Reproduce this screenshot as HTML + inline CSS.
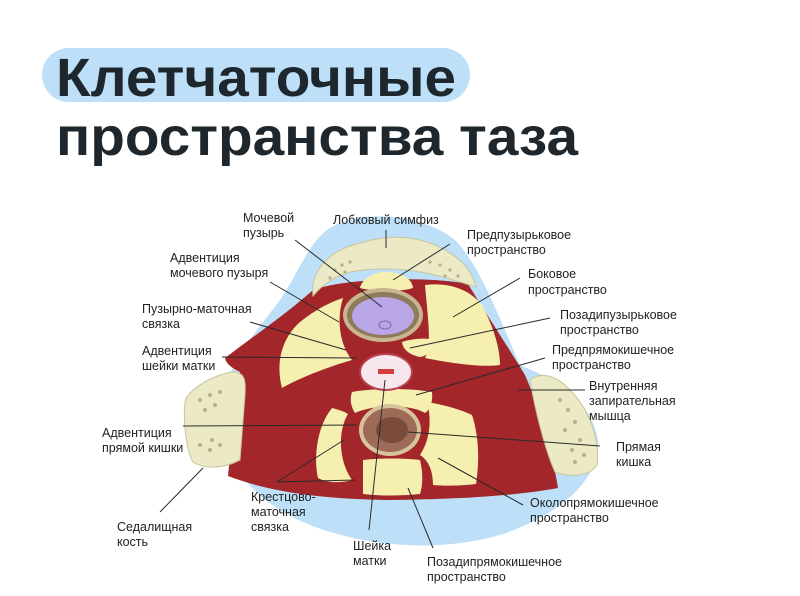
<!DOCTYPE html>
<html><head><meta charset="utf-8"><style>
html,body{margin:0;padding:0;background:#fff;}
svg{display:block}
.t{font-family:"Liberation Sans",sans-serif;font-size:12.5px;fill:#222;}
.h{font-family:"Liberation Sans",sans-serif;font-weight:bold;font-size:54px;fill:#1e272d;}
.l{stroke:#2a2a2a;stroke-width:1;fill:none}
</style></head><body>
<svg width="800" height="596" viewBox="0 0 800 596" xmlns="http://www.w3.org/2000/svg">
<rect x="42" y="48" width="428" height="54" rx="27" fill="#bde0f8"/>
<text class="h" x="56" y="96" textLength="400" lengthAdjust="spacingAndGlyphs">Клетчаточные</text>
<text class="h" x="56" y="155" textLength="522" lengthAdjust="spacingAndGlyphs">пространства таза</text>

<path d="M330,228 C360,210 420,212 455,240 C480,265 500,320 520,365 C550,378 590,395 598,440 C600,480 560,515 500,535 C440,552 370,548 310,525 C260,505 225,470 222,420 C220,370 250,340 280,300 C300,270 310,240 330,228 Z" fill="#bde0f8"/>

<!-- main red body -->
<path d="M313,290 C345,278 430,276 468,284 C490,320 510,350 525,375 C540,410 552,450 558,488 C520,495 470,499 390,500 C320,499 270,492 228,476 C232,440 236,400 240,372 C232,368 226,364 225,358 C255,335 285,315 313,290 Z" fill="#a3262a"/>

<!-- yellow fat spaces -->
<g fill="#f5f0b0">
<path d="M360,288 C362,278 375,272 386,272 C400,272 412,278 413,288 C400,292 375,292 360,288 Z"/>
<path d="M343,298 C336,320 340,345 352,360 C335,365 305,375 282,388 C276,365 280,340 300,322 C315,310 330,302 343,298 Z"/>
<path d="M425,285 C450,282 470,290 482,305 C495,330 500,350 500,365 C480,368 445,362 425,358 C432,345 428,320 425,285 Z"/>
<path d="M402,342 C415,338 428,338 433,340 C432,350 428,356 420,357 C410,355 403,350 402,342 Z"/>
<path d="M352,392 C375,388 410,388 432,392 C433,402 430,410 425,413 C410,404 375,404 355,413 C350,405 350,398 352,392 Z"/>
<path d="M332,408 C340,410 345,412 348,414 C338,430 338,460 352,480 C338,484 325,482 318,478 C313,455 318,425 332,408 Z"/>
<path d="M427,402 C445,405 462,410 472,415 C480,440 479,465 476,484 C460,486 442,486 433,485 C433,470 428,460 420,455 C430,440 432,420 427,402 Z"/>
<path d="M363,460 C380,458 405,458 420,460 C423,472 423,485 420,494 C400,496 380,496 363,494 Z"/>
</g>

<!-- top bone -->
<path d="M313,296 C310,270 330,250 360,243 C375,238 395,236 410,238 C440,243 470,260 476,287 C460,282 440,275 420,272 C400,268 370,268 350,272 C335,276 322,285 313,296 Z" fill="#ece9c6" stroke="#c8c49a" stroke-width="1"/>
<g fill="#b8b08a"><circle cx="335" cy="270" r="1.6"/><circle cx="342" cy="265" r="1.6"/><circle cx="350" cy="262" r="1.6"/><circle cx="330" cy="278" r="1.6"/><circle cx="345" cy="272" r="1.6"/><circle cx="430" cy="262" r="1.6"/><circle cx="440" cy="265" r="1.6"/><circle cx="450" cy="270" r="1.6"/><circle cx="445" cy="276" r="1.6"/><circle cx="458" cy="276" r="1.6"/></g>
<!-- left bone -->
<path d="M186,398 C195,385 215,375 232,372 C245,372 246,380 245,395 L240,460 C225,468 205,470 193,462 C186,450 182,415 186,398 Z" fill="#ece9c6" stroke="#c8c49a" stroke-width="1"/>
<g fill="#b8b08a"><circle cx="200" cy="400" r="2"/><circle cx="210" cy="395" r="2"/><circle cx="220" cy="392" r="2"/><circle cx="205" cy="410" r="2"/><circle cx="215" cy="405" r="2"/><circle cx="200" cy="445" r="2"/><circle cx="210" cy="450" r="2"/><circle cx="220" cy="445" r="2"/><circle cx="212" cy="440" r="2"/></g>
<!-- right bone -->
<path d="M530,380 C540,372 555,374 570,390 C590,410 600,440 597,465 C590,476 570,478 555,472 C545,450 535,410 530,380 Z" fill="#ece9c6" stroke="#c8c49a" stroke-width="1"/>
<g fill="#b8b08a"><circle cx="560" cy="400" r="2"/><circle cx="568" cy="410" r="2"/><circle cx="575" cy="422" r="2"/><circle cx="565" cy="430" r="2"/><circle cx="580" cy="440" r="2"/><circle cx="572" cy="450" r="2"/><circle cx="584" cy="455" r="2"/><circle cx="575" cy="462" r="2"/></g>

<!-- bladder -->
<ellipse cx="383" cy="315" rx="40" ry="27" fill="#c9b58f"/>
<ellipse cx="383" cy="315" rx="36" ry="23" fill="#8f7a5a"/>
<ellipse cx="383" cy="316" rx="31" ry="19" fill="#b8a6e6"/>
<ellipse cx="385" cy="325" rx="6" ry="4" fill="none" stroke="#7a6aa8"/>
<!-- cervix -->
<ellipse cx="386" cy="372" rx="26" ry="18" fill="#f7e6ec" stroke="#b84050" stroke-width="2"/>
<rect x="378" y="369" width="16" height="5" fill="#d04040"/>
<!-- rectum -->
<ellipse cx="390" cy="430" rx="31" ry="26" fill="#d7c39a"/>
<ellipse cx="390" cy="430" rx="27" ry="22" fill="#9e6b58"/>
<ellipse cx="392" cy="430" rx="16" ry="13" fill="#7a4a3a"/>

<g class="l">
<line x1="295" y1="240" x2="382" y2="307"/>
<line x1="386" y1="230" x2="386" y2="248"/>
<line x1="450" y1="244" x2="393" y2="280"/>
<line x1="270" y1="282" x2="339" y2="322"/>
<line x1="520" y1="278" x2="453" y2="317"/>
<line x1="250" y1="322" x2="346" y2="350"/>
<line x1="550" y1="318" x2="410" y2="348"/>
<line x1="222" y1="357" x2="357" y2="358"/>
<line x1="545" y1="358" x2="416" y2="395"/>
<line x1="183" y1="426" x2="357" y2="425"/>
<line x1="585" y1="390" x2="518" y2="390"/>
<line x1="408" y1="432" x2="600" y2="446"/>
<line x1="203" y1="468" x2="160" y2="512"/>
<line x1="277" y1="482" x2="344" y2="440"/>
<line x1="277" y1="482" x2="355" y2="480"/>
<line x1="385" y1="380" x2="369" y2="530"/>
<line x1="438" y1="458" x2="523" y2="505"/>
<line x1="408" y1="488" x2="433" y2="548"/>
</g>

<g class="t">
<text x="243" y="222">Мочевой</text><text x="243" y="237">пузырь</text>
<text x="333" y="224">Лобковый симфиз</text>
<text x="467" y="239">Предпузырьковое</text><text x="467" y="254">пространство</text>
<text x="170" y="262">Адвентиция</text><text x="170" y="277">мочевого пузыря</text>
<text x="528" y="278">Боковое</text><text x="528" y="294">пространство</text>
<text x="142" y="313">Пузырно-маточная</text><text x="142" y="328">связка</text>
<text x="560" y="319">Позадипузырьковое</text><text x="560" y="334">пространство</text>
<text x="142" y="355">Адвентиция</text><text x="142" y="370">шейки матки</text>
<text x="552" y="354">Предпрямокишечное</text><text x="552" y="369">пространство</text>
<text x="589" y="390">Внутренняя</text><text x="589" y="405">запирательная</text><text x="589" y="420">мышца</text>
<text x="102" y="437">Адвентиция</text><text x="102" y="452">прямой кишки</text>
<text x="616" y="451">Прямая</text><text x="616" y="466">кишка</text>
<text x="251" y="501">Крестцово-</text><text x="251" y="516">маточная</text><text x="251" y="531">связка</text>
<text x="530" y="507">Околопрямокишечное</text><text x="530" y="522">пространство</text>
<text x="117" y="531">Седалищная</text><text x="117" y="546">кость</text>
<text x="353" y="550">Шейка</text><text x="353" y="565">матки</text>
<text x="427" y="566">Позадипрямокишечное</text><text x="427" y="581">пространство</text>
</g>
</svg>
</body></html>
